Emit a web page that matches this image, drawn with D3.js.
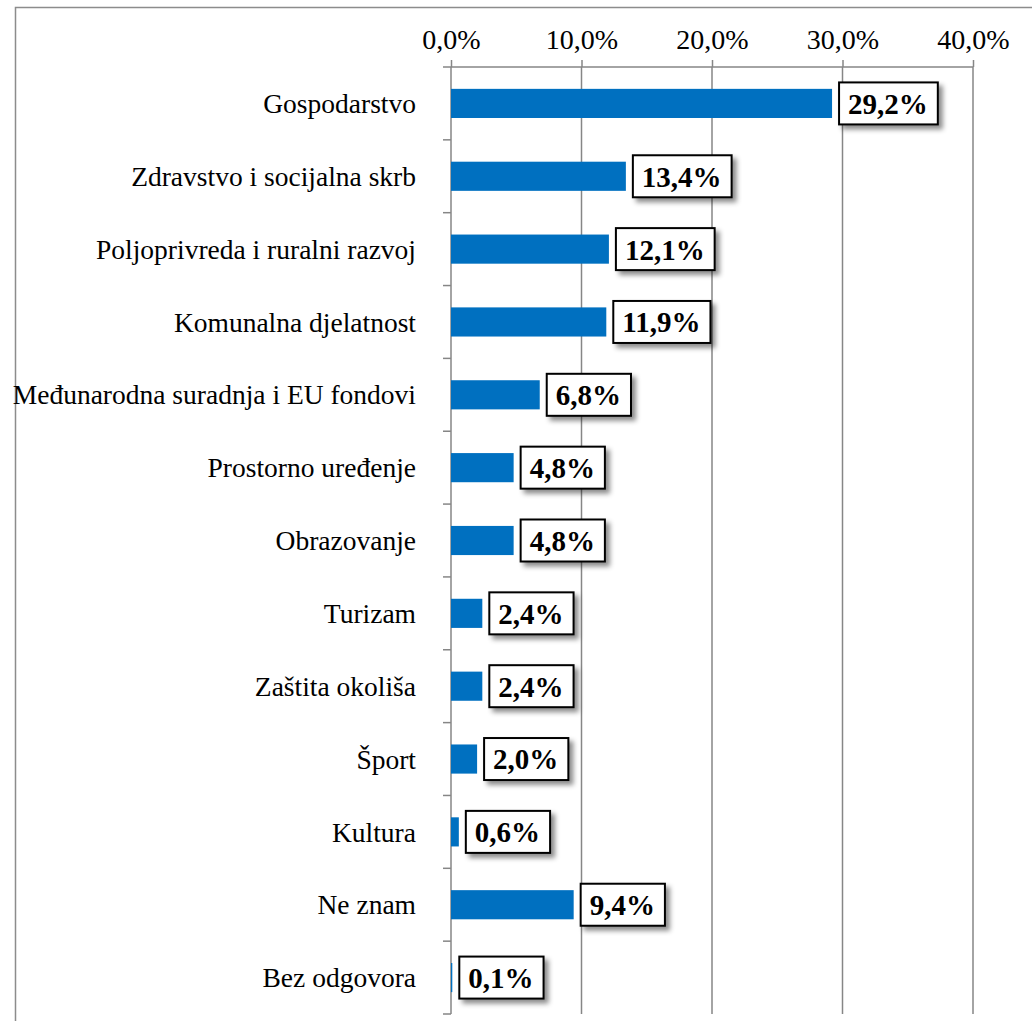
<!DOCTYPE html>
<html><head><meta charset="utf-8">
<script src="https://cdn.jsdelivr.net/npm/d3@7"></script>
<style>body{margin:0;background:#fff}svg{display:block}</style>
</head><body>
<script>
const categories = ["Gospodarstvo","Zdravstvo i socijalna skrb","Poljoprivreda i ruralni razvoj","Komunalna djelatnost","Međunarodna suradnja i EU fondovi","Prostorno uređenje","Obrazovanje","Turizam","Zaštita okoliša","Šport","Kultura","Ne znam","Bez odgovora"];
const values = [29.2,13.4,12.1,11.9,6.8,4.8,4.8,2.4,2.4,2.0,0.6,9.4,0.1];
const tickValues = [0,10,20,30,40];

const W=1032,H=1021;
const svg=d3.select("body").append("svg").attr("width",W).attr("height",H);
const defs=svg.append("defs");
const f=defs.append("filter").attr("id","sh").attr("x","-20%").attr("y","-20%").attr("width","150%").attr("height","160%");
f.append("feDropShadow").attr("dx",4).attr("dy",4).attr("stdDeviation",2.5).attr("flood-color","#000").attr("flood-opacity",0.45);

svg.append("rect").attr("x",15.5).attr("y",7.5).attr("width",1100).attr("height",1100).attr("fill","none").attr("stroke","#8c8c8c").attr("stroke-width",1.5);

const x=d3.scaleLinear().domain([0,40]).range([451,973]);
const y=d3.scaleBand().domain(categories).range([67,1014]).paddingInner(0.6).paddingOuter(0.3);
const fmt=v=>d3.format(".1f")(v).replace(".",",")+"%";
const grey="#868686";

// gridlines
svg.append("g").selectAll("line").data(tickValues.slice(1)).join("line")
  .attr("x1",d=>x(d)).attr("x2",d=>x(d)).attr("y1",67).attr("y2",1014)
  .attr("stroke",grey).attr("stroke-width",1.5);

// top axis
const xa=svg.append("g").attr("transform","translate(0,67)")
  .call(d3.axisTop(x).tickValues(tickValues).tickFormat(fmt).tickSize(7).tickPadding(11));
xa.select(".domain").attr("stroke",grey).attr("stroke-width",1.5).attr("d","M443,0H973");
xa.selectAll(".tick line").attr("stroke",grey).attr("stroke-width",1.5);
xa.selectAll(".tick text").attr("font-family","Liberation Serif").attr("font-size",28).attr("fill","#000");

// left axis
const boundaries=categories.map(c=>y(c)-y.step()*y.paddingInner()/2).concat([1014]);
const ya=svg.append("g");
ya.append("line").attr("x1",451).attr("x2",451).attr("y1",67).attr("y2",1014).attr("stroke",grey).attr("stroke-width",1.5);
ya.selectAll("line.t").data(boundaries.slice(1)).join("line").attr("class","t")
  .attr("x1",443).attr("x2",451).attr("y1",d=>d).attr("y2",d=>d).attr("stroke",grey).attr("stroke-width",1.5);
ya.selectAll("text").data(categories).join("text")
  .attr("x",416).attr("y",d=>y(d)+y.bandwidth()/2).attr("dy","0.35em")
  .attr("text-anchor","end").attr("font-family","Liberation Serif").attr("font-size",27.5).attr("fill","#000")
  .text(d=>d);

// bars
svg.append("g").selectAll("rect").data(values).join("rect")
  .attr("x",x(0)).attr("y",(d,i)=>y(categories[i]))
  .attr("width",d=>x(d)-x(0)).attr("height",y.bandwidth()).attr("fill","#0070C0");

// labels
const lg=svg.append("g").selectAll("g").data(values).join("g")
  .attr("transform",(d,i)=>`translate(${x(d)+7},${y(categories[i])+y.bandwidth()/2})`);
lg.each(function(d){
  const g=d3.select(this);
  const t=g.append("text").attr("x",9).attr("dy","0.36em").attr("font-family","Liberation Serif").attr("font-weight","bold").attr("font-size",29).attr("fill","#000").text(fmt(d));
  const w=t.node().getComputedTextLength();
  g.insert("rect","text").attr("x",0).attr("y",-21).attr("width",w+19).attr("height",42)
   .attr("fill","#fff").attr("stroke","#000").attr("stroke-width",2).attr("filter","url(#sh)");
});
</script>
</body></html>
